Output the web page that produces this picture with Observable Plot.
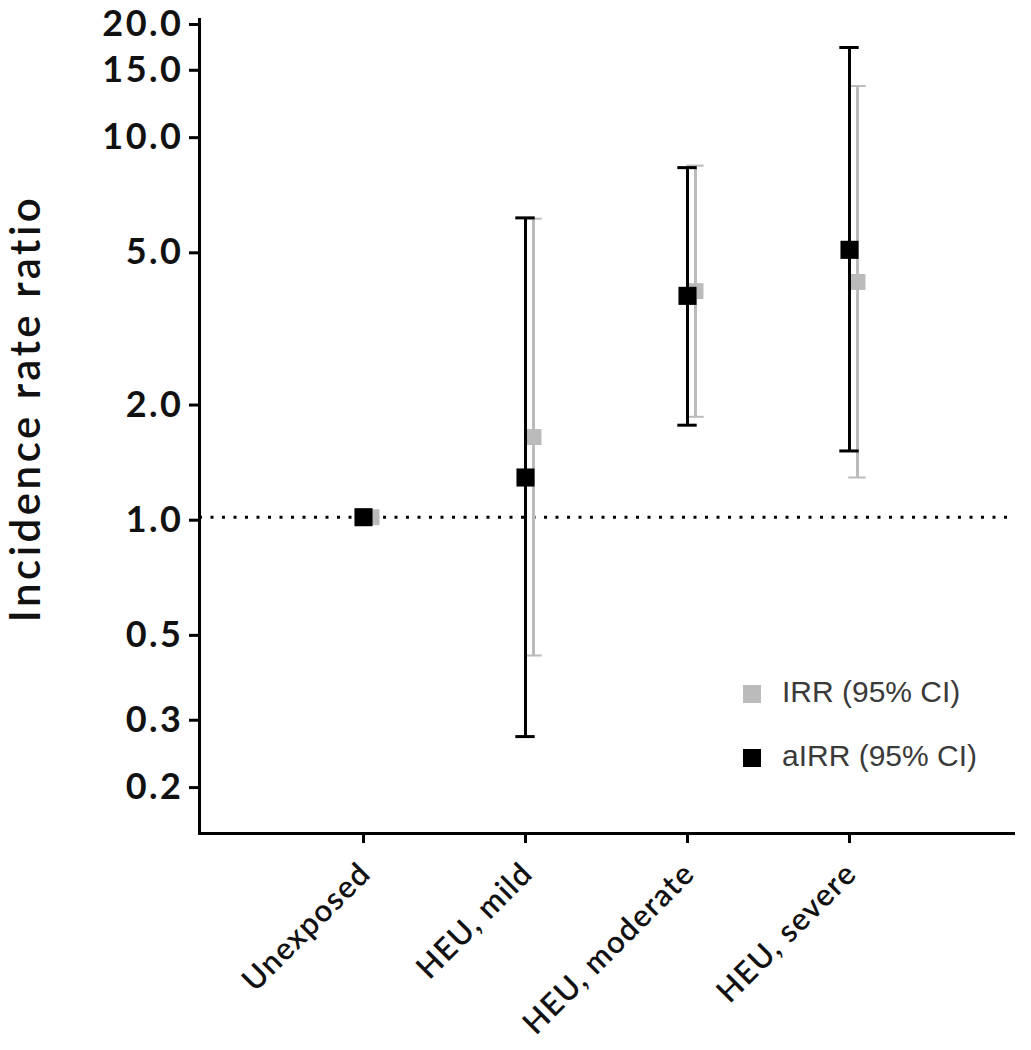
<!DOCTYPE html>
<html><head><meta charset="utf-8">
<script src="https://cdn.jsdelivr.net/npm/d3@7"></script>
<script src="https://cdn.jsdelivr.net/npm/@observablehq/plot@0.6"></script>
<style>
body{margin:0;background:#fff;}
#wrap{position:relative;width:1031px;height:1050px;}
g[aria-label="y-axis tick label"] text{letter-spacing:2.5px;}
g[aria-label="x-axis tick label"] text{letter-spacing:1.3px;}
.leg{position:absolute;font-family:"Liberation Sans",Arial,sans-serif;font-size:30px;line-height:30px;color:#3a3a3a;white-space:nowrap;}
.sw{position:absolute;width:18px;height:18px;}
</style></head><body><div id="wrap"></div>
<script>
const categories = ["Unexposed", "HEU, mild", "HEU, moderate", "HEU, severe"];
const irr    = [1.0, 1.62, 3.9, 4.12];
const irrLo  = [null, 0.435, 1.83, 1.27];
const irrHi  = [null, 6.03, 8.3, 13.4];
const airr   = [1.0, 1.27, 3.79, 5.0];
const airrLo = [null, 0.267, 1.74, 1.49];
const airrHi = [null, 6.06, 8.2, 16.9];
const yTicks = [0.2, 0.3, 0.5, 1, 2, 5, 10, 15];
const yTopTick = [20];
const yTitle = ["Incidence rate ratio"];
const legendLabels = ["IRR (95% CI)", "aIRR (95% CI)"];

const GRAY = "#bbbbbb", BLACK = "#000000";
const rows = categories.map((c, i) => ({cat: c, irr: irr[i], irrLo: irrLo[i], irrHi: irrHi[i], airr: airr[i], airrLo: airrLo[i], airrHi: airrHi[i]}));
const ci = rows.filter(d => d.irrLo != null);
const yAxisStyle = {tickFormat: d3.format(".1f"), tickSize: 10, tickPadding: 6, strokeWidth: 3,
  fontSize: 36, fontWeight: "bold", fontFamily: "Lato, sans-serif", fill: "#111", label: null};

const chart = Plot.plot({
  width: 1031, height: 1050,
  marginLeft: 199, marginRight: 18, marginTop: 19, marginBottom: 217,
  style: {background: "#fff", color: "#000", fontFamily: "Lato, sans-serif", overflow: "visible"},
  x: {type: "band", domain: categories, paddingInner: 0.8, paddingOuter: 0.9, label: null},
  y: {type: "log", domain: [0.149, 20], label: null},
  marks: [
    Plot.ruleY([1], {stroke: BLACK, strokeWidth: 3, strokeDasharray: "3,8.5"}),
    // IRR (gray)
    Plot.ruleX(ci, {x: "cat", y1: "irrLo", y2: "irrHi", dx: 8, stroke: GRAY, strokeWidth: 3}),
    Plot.tickY(ci, {x: "cat", y: "irrLo", dx: 8, stroke: GRAY, strokeWidth: 2, insetLeft: 7.3, insetRight: 7.3}),
    Plot.tickY(ci, {x: "cat", y: "irrHi", dx: 8, stroke: GRAY, strokeWidth: 2, insetLeft: 7.3, insetRight: 7.3}),
    Plot.dot(rows, {x: "cat", y: "irr", dx: 8, symbol: "square", r: 9, fill: GRAY}),
    // aIRR (black)
    Plot.ruleX(ci, {x: "cat", y1: "airrLo", y2: "airrHi", stroke: BLACK, strokeWidth: 3}),
    Plot.tickY(ci, {x: "cat", y: "airrLo", stroke: BLACK, strokeWidth: 3, insetLeft: 6.3, insetRight: 6.3}),
    Plot.tickY(ci, {x: "cat", y: "airrHi", stroke: BLACK, strokeWidth: 3, insetLeft: 6.3, insetRight: 6.3}),
    Plot.dot(rows, {x: "cat", y: "airr", symbol: "square", r: 10.2, fill: BLACK}),
    // frame
    Plot.frame({anchor: "left", stroke: BLACK, strokeWidth: 3}),
    Plot.frame({anchor: "bottom", stroke: BLACK, strokeWidth: 3}),
    // axes
    Plot.axisY({...yAxisStyle, ticks: yTicks, dy: 3}),
    Plot.axisY({...yAxisStyle, ticks: yTopTick, dy: 5}),
    Plot.axisX({tickSize: 10, strokeWidth: 3, fill: "none", label: null}),
    Plot.axisX({tickSize: 0, tickPadding: 42, tickRotate: -45, textAnchor: "end", lineAnchor: "bottom", dx: 9,
      fontSize: 31, fontWeight: 600, fontFamily: "Lato, sans-serif", fill: "#111", label: null}),
    Plot.text(yTitle, {text: d => d, frameAnchor: "left", rotate: -90, dx: -160, dy: -18, textAnchor: "middle", lineAnchor: "bottom",
      fontSize: 42, fontWeight: 600, fontFamily: "Lato, sans-serif", fill: "#111"})
  ]
});
chart.querySelectorAll('g[aria-label="text"] text').forEach(t => t.style.letterSpacing = "3.5px");
const wrap = document.getElementById("wrap");
wrap.appendChild(chart);

// legend overlay
const legColors = [GRAY, BLACK];
const legTops = [685, 749];
legendLabels.forEach((lab, i) => {
  const sw = document.createElement("div");
  sw.className = "sw";
  sw.style.left = "743px"; sw.style.top = legTops[i] + "px"; sw.style.background = legColors[i];
  wrap.appendChild(sw);
  const tx = document.createElement("div");
  tx.className = "leg";
  tx.style.left = "782px"; tx.style.top = (legTops[i] - 8) + "px";
  tx.textContent = lab;
  wrap.appendChild(tx);
});
</script></body></html>
